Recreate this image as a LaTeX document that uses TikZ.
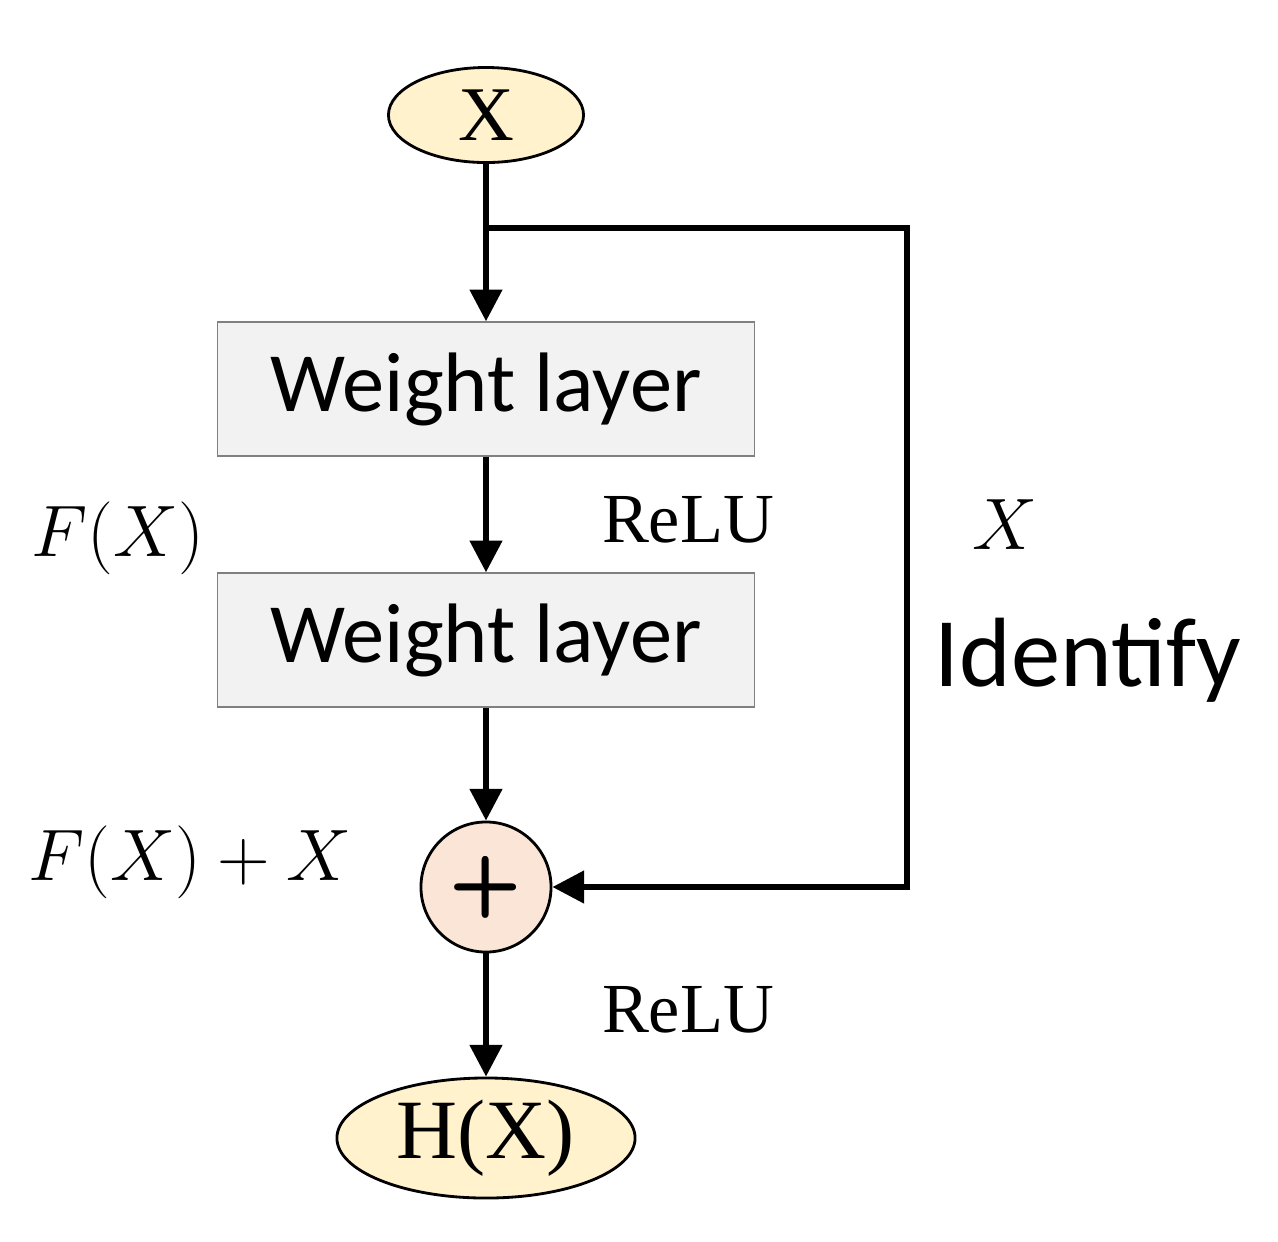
\documentclass[tikz,border=0pt]{standalone}
\usepackage{fontspec}
\setmainfont{Liberation Serif}
\newfontfamily\calib{Carlito}
\usetikzlibrary{shapes.geometric,arrows.meta}
\definecolor{ellfill}{RGB}{255,242,204}
\definecolor{boxfill}{RGB}{242,242,242}
\definecolor{sumfill}{RGB}{251,229,214}
\tikzset{
  term/.style={ellipse, draw=black, thick, fill=ellfill, inner sep=0pt},
  layer/.style={rectangle, draw=gray, fill=boxfill, minimum width=5.37cm, minimum height=1.34cm, font=\calib\fontsize{24}{28}\selectfont},
  flow/.style={-{Triangle[length=9pt,width=9pt]}, line width=1.6pt},
  lbl/.style={font=\fontsize{20}{24}\selectfont}
}
\begin{document}
\begin{tikzpicture}[x=0.01cm,y=-0.01cm]
    \useasboundingbox (0,0) rectangle (1278,1241);
    % First, locate each of the nodes and name them
    \node[term, minimum width=1.95cm, minimum height=0.95cm, font=\fontsize{22}{26}\selectfont] (input) at (486,115) {X};
    \coordinate (split) at (486,228);
    \coordinate (corner1) at (907,228);
    \coordinate (corner2) at (907,887);
    \node[layer] (layer1) at (486,389) {Weight layer};
    \node[layer] (layer2) at (486,640) {Weight layer};
    \node[circle, draw=black, thick, fill=sumfill, inner sep=0pt, minimum size=1.3cm, font=\sffamily\bfseries\fontsize{24}{24}\selectfont] (sum) at (486,887) {+};
    \node[term, minimum width=2.98cm, minimum height=1.2cm, font=\fontsize{24}{28}\selectfont] (output) at (486,1138) {H(X)};
    \node[lbl] (relu1) at (688,520) {ReLU};
    \node[lbl] (relu2) at (688,1010) {ReLU};
    \node[lbl] (fx) at (118,538) {$F(X)$};
    \node[lbl] (fxx) at (190,862) {$F(X)+X$};
    \node[lbl] (xid) at (1005,525) {$X$};
    \node[font=\calib\fontsize{28}{32}\selectfont] (identify) at (1088,660) {Identify};
    % Now draw the lines
    \draw[line width=1.6pt] (input) -- (split);
    \draw[flow] (split) -- (layer1);
    \draw[flow] (layer1) -- (layer2);
    \draw[flow] (layer2) -- (sum);
    \draw[flow] (sum) -- (output);
    \draw[flow] (split) -- (corner1) -- (corner2) -- (sum);
\end{tikzpicture}
\end{document}
